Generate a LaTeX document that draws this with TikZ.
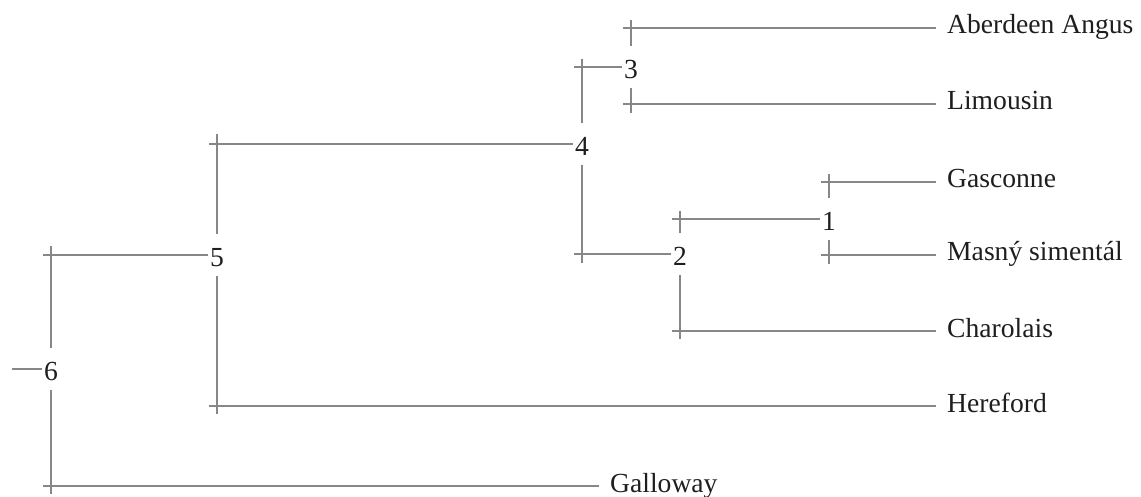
\documentclass[tikz,border=0pt]{standalone}
\usepackage{fontspec}
\setmainfont{Liberation Serif}
\definecolor{treeline}{RGB}{135,135,135}
\definecolor{treetext}{RGB}{30,30,30}
\begin{document}
\begin{tikzpicture}[x=1pt,y=1pt,
  leaf/.style={anchor=west,inner sep=0pt,text height=18pt,text depth=6pt,
    font=\fontsize{27.6}{30}\selectfont,text=treetext},
  clus/.style={inner xsep=2pt,inner ysep=9pt,text height=23pt,text depth=0pt,
    font=\fontsize{27.6}{30}\selectfont,text=treetext},
  br/.style={draw=treeline,line width=1.7pt},
  tolabel/.style={br,shorten >=11pt}]
\useasboundingbox (0,0) rectangle (1141,-497);
% leaves
\node[leaf] (aa)  at (947,-28)  {Aberdeen Angus};
\node[leaf] (lim) at (947,-104) {Limousin};
\node[leaf] (gas) at (947,-182) {Gasconne};
\node[leaf] (mas) at (947,-255) {Masný simentál};
\node[leaf] (cha) at (947,-331) {Charolais};
\node[leaf] (her) at (947,-406) {Hereford};
\node[leaf] (gal) at (610,-486) {Galloway};
% cluster labels
\node[clus] (c1) at (829,-219) {1};
\node[clus] (c2) at (680,-254) {2};
\node[clus] (c3) at (631,-67)  {3};
\node[clus] (c4) at (582,-144) {4};
\node[clus] (c5) at (217,-255) {5};
\node[clus] (c6) at (51,-369)  {6};
% tick coordinates
\coordinate (t1a) at (829,-174); \coordinate (t1b) at (829,-264);
\coordinate (t2a) at (680,-211); \coordinate (t2b) at (680,-339);
\coordinate (t3a) at (631,-20);  \coordinate (t3b) at (631,-113);
\coordinate (t4a) at (582,-59);  \coordinate (t4b) at (582,-263);
\coordinate (t5a) at (217,-134); \coordinate (t5b) at (217,-414);
\coordinate (t6a) at (51,-246);  \coordinate (t6b) at (51,-494);
\coordinate (root) at (12,-369);
% verticals
\draw[br] (t1a) -- (c1.north); \draw[br] (c1.south) -- (t1b);
\draw[br] (t2a) -- (c2.north); \draw[br] (c2.south) -- (t2b);
\draw[br] (t3a) -- (c3.north); \draw[br] (c3.south) -- (t3b);
\draw[br] (t4a) -- (c4.north); \draw[br] (c4.south) -- (t4b);
\draw[br] (t5a) -- (c5.north); \draw[br] (c5.south) -- (t5b);
\draw[br] (t6a) -- (c6.north); \draw[br] (c6.south) -- (t6b);
% horizontals to leaves
\draw[tolabel] (623,-28)  -- (aa.west);
\draw[tolabel] (623,-104) -- (lim.west);
\draw[tolabel] (821,-182) -- (gas.west);
\draw[tolabel] (821,-255) -- (mas.west);
\draw[tolabel] (672,-331) -- (cha.west);
\draw[tolabel] (209,-406) -- (her.west);
\draw[tolabel] (43,-486)  -- (gal.west);
% horizontals to clusters
\draw[br] (672,-219) -- (c1.west);
\draw[br] (574,-254) -- (c2.west);
\draw[br] (574,-67)  -- (c3.west);
\draw[br] (209,-144) -- (c4.west);
\draw[br] (43,-255)  -- (c5.west);
\draw[br] (root) -- (c6.west);
\end{tikzpicture}
\end{document}
